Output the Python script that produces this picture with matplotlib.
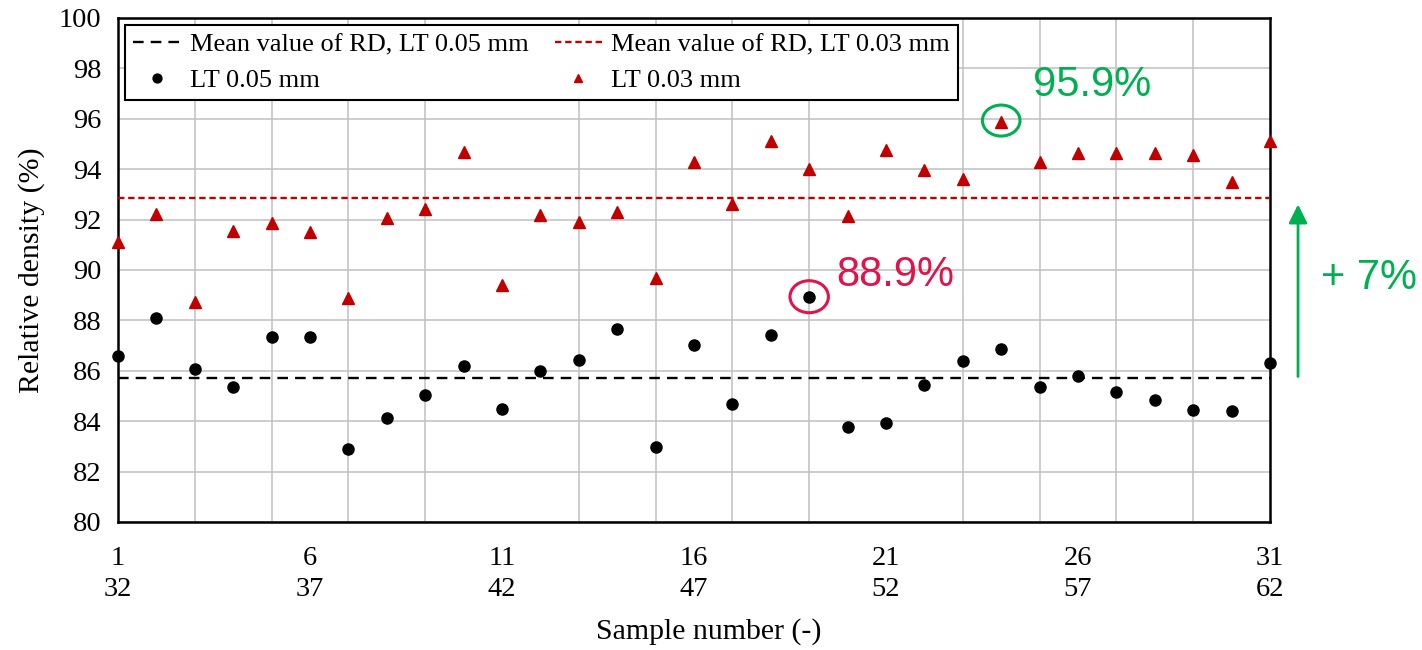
import numpy as np
import matplotlib
matplotlib.use('Agg')
import matplotlib.pyplot as plt
from matplotlib.patches import Ellipse
from matplotlib.ticker import FixedLocator

plt.rcParams['font.family'] = 'Liberation Serif'

# --- data ---
sample_no = np.arange(1, 32)
tick_pos = [1, 6, 11, 16, 21, 26, 31]
tick_labels = ['1\n32', '6\n37', '11\n42', '16\n47', '21\n52', '26\n57', '31\n62']

rd_005 = [86.59, 88.11, 86.07, 85.36, 87.35, 87.35, 82.90, 84.13, 85.03, 86.21,
          84.50, 86.01, 86.43, 87.66, 82.96, 87.02, 84.68, 87.43, 88.94, 83.76,
          83.92, 85.42, 86.39, 86.88, 85.36, 85.79, 85.16, 84.83, 84.46, 84.39,
          86.29]
rd_003 = [91.12, 92.22, 88.73, 91.55, 91.85, 91.51, 88.87, 92.06, 92.44, 94.67,
          89.39, 92.19, 91.92, 92.30, 89.70, 94.29, 92.62, 95.11, 94.01, 92.16,
          94.76, 93.98, 93.61, 95.88, 94.29, 94.66, 94.66, 94.63, 94.58, 93.50,
          95.13]

mean_005 = np.mean(rd_005)
mean_003 = np.mean(rd_003)

RED = '#C00000'
CRIMSON = '#E2134A'
GREEN = '#00B050'

fig = plt.figure(figsize=(14.22, 6.5), dpi=100)
ax = fig.add_axes([118/1422, 1 - 522/650, 1152/1422, 504/650])

ax.axhline(mean_005, color='black', lw=1.7, ls=(0, (4.5, 3)), zorder=3,
           label='Mean value of RD, LT 0.05 mm')
ax.plot(sample_no, rd_005, 'o', color='black', ms=8, ls='none', clip_on=False,
        zorder=4, label='LT 0.05 mm')
ax.axhline(mean_003, color=RED, lw=1.7, ls=(0, (2.7, 1.6)), zorder=3,
           label='Mean value of RD, LT 0.03 mm')
ax.plot(sample_no, rd_003, '^', color=RED, ms=8, ls='none', clip_on=False,
        zorder=4, label='LT 0.03 mm')

ax.set_xlim(1, 31)
ax.set_ylim(80, 100)
ax.set_yticks(np.arange(80, 101, 2))
ax.xaxis.set_major_locator(FixedLocator(tick_pos))
ax.set_xticklabels(tick_labels, linespacing=1.35)
ax.xaxis.set_minor_locator(FixedLocator(np.arange(1, 32, 2)))
ax.grid(False)
ax.xaxis.grid(True, which='minor', color='#C0C0C0', lw=1.1)
ax.yaxis.grid(True, which='major', color='#C0C0C0', lw=1.1)
ax.set_axisbelow(True)
ax.tick_params(axis='both', which='both', length=0, labelsize=20.5)
ax.tick_params(axis='x', pad=17)
ax.tick_params(axis='y', pad=12)
for s in ax.spines.values():
    s.set_linewidth(1.8)
    s.set_color('black')

ax.set_xlabel('Sample number (-)', fontsize=21.5)
ax.set_ylabel('Relative density (%)', fontsize=21.5)
ax.xaxis.set_label_coords(0.513, -0.19)
ax.yaxis.set_label_coords(-0.063, 0.5)

leg = ax.legend(loc='upper left', bbox_to_anchor=(0.006, 0.986), borderaxespad=0,
                ncol=2, fontsize=19, frameon=True, fancybox=False, framealpha=1,
                edgecolor='black', handlelength=1.8, handletextpad=0.35,
                columnspacing=1.0, labelspacing=0.45, borderpad=0.3,
                markerscale=0.8)
leg.get_frame().set_linewidth(1.5)

# highlight maxima
i5 = int(np.argmax(rd_005))
i3 = int(np.argmax(rd_003))
ax.add_patch(Ellipse((sample_no[i5], rd_005[i5]), 1.0, 1.27, fill=False,
                     ec=CRIMSON, lw=2.2, clip_on=False, zorder=5))
ax.add_patch(Ellipse((sample_no[i3], rd_003[i3] + 0.05), 0.98, 1.23, fill=False,
                     ec=GREEN, lw=2.2, clip_on=False, zorder=5))
ax.annotate(f'{rd_005[i5]:.1f}%', (sample_no[i5], rd_005[i5]),
            xytext=(27, 11), textcoords='offset pixels', color=CRIMSON,
            fontsize=30, family='Liberation Sans', ha='left', va='baseline')
ax.annotate(f'{rd_003[i3]:.1f}%', (sample_no[i3], rd_003[i3]),
            xytext=(32, 26), textcoords='offset pixels', color=GREEN,
            fontsize=30, family='Liberation Sans', ha='left', va='baseline')

# arrow between the means
x_arrow = 31.73
ax.annotate('', xy=(x_arrow, mean_003 - 0.25), xytext=(x_arrow, mean_005 + 0.05),
            arrowprops=dict(arrowstyle='-|>', color=GREEN, lw=2,
                            mutation_scale=28, shrinkA=0, shrinkB=0),
            annotation_clip=False)
ax.text(x_arrow + 0.6, 80 + (522 - 289) / 25.2, f'+ {mean_003 - mean_005:.0f}%',
        color=GREEN, fontsize=30, family='Liberation Sans', ha='left',
        va='baseline', clip_on=False)

fig.savefig('out.png', dpi=100)
